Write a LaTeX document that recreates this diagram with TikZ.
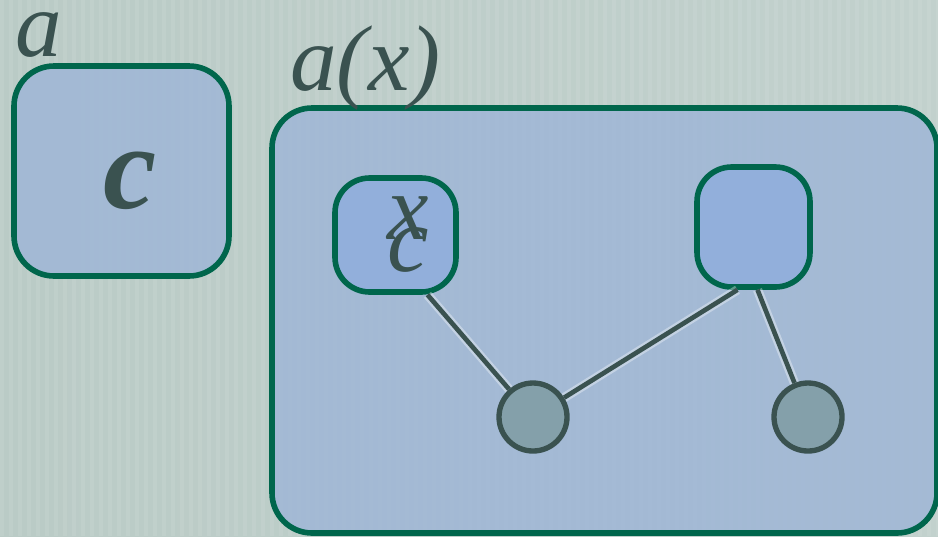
\documentclass[tikz,border=0pt]{standalone}
\usepackage{fontspec}
\setmainfont{Liberation Serif}
\usetikzlibrary{calc}
\definecolor{bgcol}{RGB}{186,203,198}
\definecolor{bgcolR}{RGB}{194,209,205}
\definecolor{boxfill}{RGB}{160,183,214}
\definecolor{smallfill}{RGB}{146,175,219}
\definecolor{border}{RGB}{0,102,76}
\definecolor{ink}{RGB}{58,82,80}
\definecolor{circfill}{RGB}{132,160,170}
\tikzset{
  bigtext/.style={font=\fontsize{70}{80}\selectfont\itshape, text=ink, inner sep=0pt},
  plate/.style={draw=border, line width=4.2pt, fill=boxfill, fill opacity=0.88, draw opacity=1, rounded corners=30pt, inner sep=0pt},
  smallbox/.style={draw=border, line width=4.2pt, fill=smallfill, rounded corners=26pt, inner sep=0pt},
  dot/.style={circle, draw=ink, line width=4pt, fill=circfill, minimum size=51pt, inner sep=0pt},
  edge/.style={draw=ink, line width=3.5pt, preaction={draw=white, draw opacity=0.35, line width=7pt}}
}
\begin{document}
\begin{tikzpicture}[x=0.75pt,y=-0.75pt]
\useasboundingbox (0,0) rectangle (938,536);
\shade[left color=bgcol, right color=bgcolR] (0,0) rectangle (938,536);
\foreach \i in {0,9,...,936} {\fill[white,opacity=0.08] (\i,0) rectangle ++(4,536);}
% boxes
\node[plate, minimum width=161.25pt, minimum height=157.5pt] (boxa) at (121.5,171) {};
\node[plate, minimum width=498.75pt, minimum height=318.75pt] (boxax) at (604.5,320.5) {};
\node[smallbox, minimum width=90.75pt, minimum height=85.5pt] (xb) at (395.5,235) {};
\node[smallbox, minimum width=84.75pt, minimum height=90pt] (rb) at (753.5,227) {};
\node[dot] (lc) at (533,417) {};
\node[dot] (rc) at (808,417) {};
% connectors
\coordinate (xbe) at ($(xb.south)+(32,0)$);
\coordinate (rbl) at ($(rb.south)+(-16,0)$);
\coordinate (rbr) at ($(rb.south)+(4,0)$);
\path[edge] (xbe) -- (lc);
\path[edge] (rbl) -- (lc);
\path[edge] (rbr) -- (rc);
% labels
\node[bigtext, anchor=base west] (la) at (15,56) {a};
\node[bigtext, anchor=base west] (lax) at (290,90) {a(x)};
\node[bigtext, font=\fontsize{90}{100}\selectfont\bfseries\itshape, anchor=base] (lc1) at (130,208) {c};
\node[bigtext, anchor=base] (lx) at (408,239) {x};
\node[bigtext, anchor=base] (lc2) at (408,271) {c};
\end{tikzpicture}
\end{document}
